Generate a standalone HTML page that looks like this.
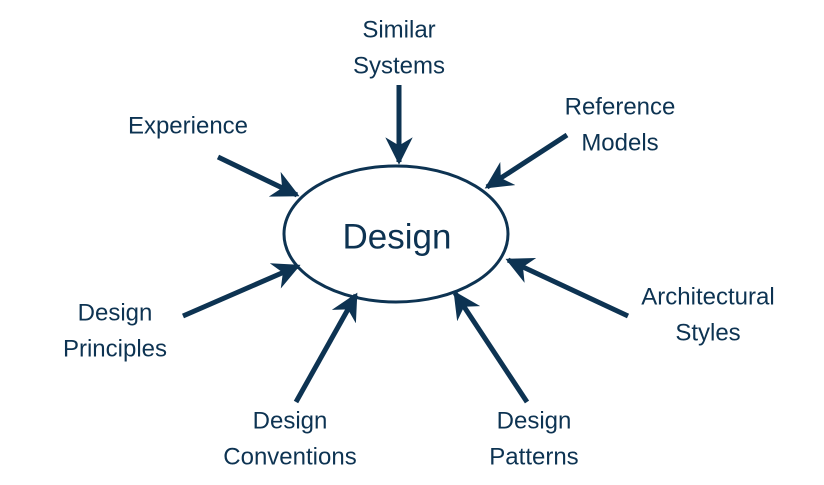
<!DOCTYPE html>
<html><head><style>
html,body{margin:0;padding:0;background:#fff;}
svg{display:block}
text{font-family:"Liberation Sans",sans-serif;fill:#0d3352;text-anchor:middle;dominant-baseline:middle;}
</style></head><body>
<svg width="824" height="485" viewBox="0 0 824 485">
<defs>
<marker id="a" viewBox="0 0 10 10" refX="9" refY="5" markerWidth="5.5" markerHeight="5.5" orient="auto" markerUnits="strokeWidth">
<path d="M0,0 L10,5 L0,10 L3,5 Z" fill="#0d3352"/>
</marker>
</defs>
<ellipse cx="396" cy="234" rx="112" ry="68" fill="none" stroke="#0d3352" stroke-width="3"/>
<text x="397" y="239" font-size="35">Design</text>
<g stroke="#0d3352" stroke-width="5" marker-end="url(#a)">
<line x1="399" y1="85" x2="399" y2="162"/>
<line x1="218" y1="157" x2="297" y2="195"/>
<line x1="567" y1="135" x2="487" y2="187"/>
<line x1="628" y1="316" x2="508" y2="260"/>
<line x1="183" y1="316" x2="298" y2="266"/>
<line x1="296" y1="402" x2="356" y2="295"/>
<line x1="527" y1="402" x2="455" y2="293"/>
</g>
<g font-size="24">
<text x="399" y="31">Similar</text><text x="399" y="67">Systems</text>
<text x="188" y="127">Experience</text>
<text x="620" y="108">Reference</text><text x="620" y="144">Models</text>
<text x="708" y="298">Architectural</text><text x="708" y="334">Styles</text>
<text x="115" y="314">Design</text><text x="115" y="350">Principles</text>
<text x="290" y="422">Design</text><text x="290" y="458">Conventions</text>
<text x="534" y="422">Design</text><text x="534" y="458">Patterns</text>
</g>
</svg>
</body></html>
